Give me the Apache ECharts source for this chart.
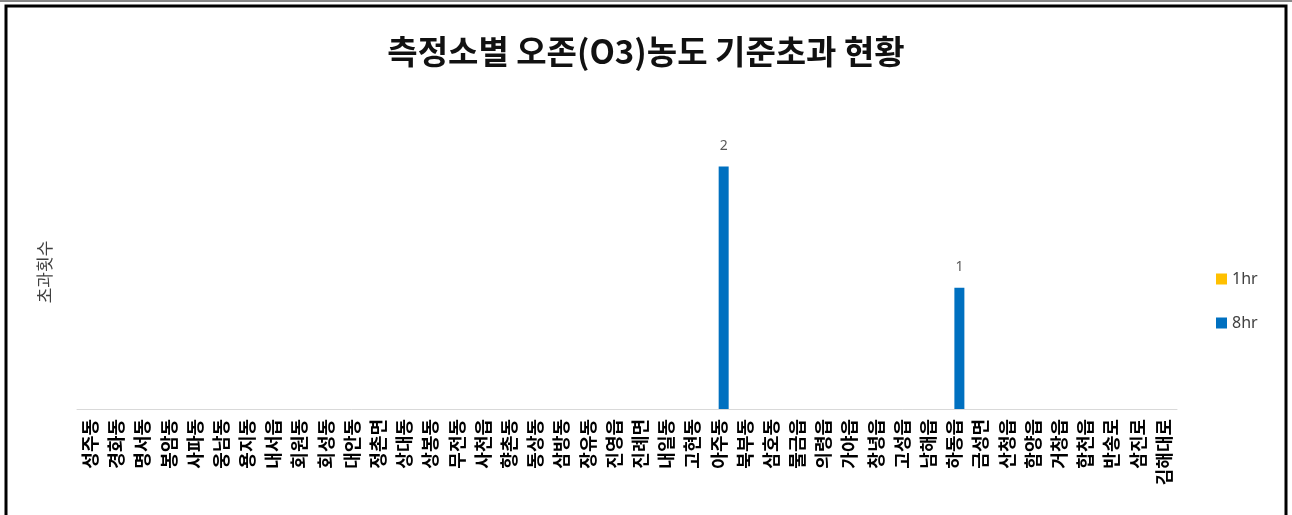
<!DOCTYPE html>
<html>
<head>
<meta charset="utf-8">
<script src="https://cdn.jsdelivr.net/npm/echarts@6/dist/echarts.min.js"></script>
<style>
html,body{margin:0;padding:0;background:#fff;}
#chart{width:1292px;height:515px;}
</style>
</head>
<body>
<div id="chart"></div>
<script>
const categories = ['성주동','경화동','명서동','봉암동','사파동','웅남동','용지동','내서읍','회원동','회성동','대안동','정촌면','상대동','상봉동','무전동','사천읍','향촌동','동상동','삼방동','장유동','진영읍','진례면','내일동','고현동','아주동','북부동','삼호동','물금읍','의령읍','가야읍','창녕읍','고성읍','남해읍','하동읍','금성면','산청읍','함양읍','거창읍','합천읍','반송로','삼진로','김해대로'];
const values1hr = categories.map(() => 0);
const values8hr = [0,0,0,0,0,0,0,0,0,0,0,0,0,0,0,0,0,0,0,0,0,0,0,0,2,0,0,0,0,0,0,0,0,1,0,0,0,0,0,0,0,0];
const titleText = '측정소별 오존(O3)농도 기준초과 현황';
const yName = '초과횟수';

const chart = echarts.init(document.getElementById('chart'));
const lbl = {
  show: true, position: 'top', distance: 14, color: '#595959', fontSize: 14,
  fontFamily: 'Noto Sans',
  formatter: p => (p.value ? String(p.value) : '')
};
chart.setOption({
  animation: false,
  backgroundColor: '#fff',
  title: {
    text: titleText, left: 'center', top: 30,
    textStyle: { fontFamily: 'Noto Sans CJK KR', fontWeight: 'bold', fontSize: 33, color: '#111' }
  },
  graphic: [
    { type: 'line', shape: { x1: 0, y1: 1, x2: 1292, y2: 1 }, style: { stroke: '#888', lineWidth: 2 } },
    { type: 'rect', shape: { x: 6, y: 6, width: 1280, height: 520 }, style: { fill: 'none', stroke: '#000', lineWidth: 3 } },
    { type: 'text', x: 45, y: 272, rotation: Math.PI / 2,
      style: { text: yName, fontFamily: 'Noto Sans CJK KR', fontSize: 17, fill: '#404040', align: 'center', verticalAlign: 'middle' } }
  ],
  legend: {
    orient: 'vertical', left: 1211, top: 266, itemGap: 28,
    itemWidth: 11, itemHeight: 11, icon: 'rect',
    textStyle: { fontFamily: 'Noto Sans', fontSize: 16, color: '#404040' },
    data: ['1hr', '8hr']
  },
  grid: { left: 77, right: 115, top: 106, bottom: 106, containLabel: false },
  xAxis: {
    type: 'category', data: categories,
    axisLine: { lineStyle: { color: '#d9d9d9', width: 1 } },
    axisTick: { show: false },
    axisLabel: {
      interval: 0, rotate: 90, margin: 10,
      fontFamily: 'Noto Sans CJK KR', fontWeight: 'bold', fontSize: 18, color: '#000'
    }
  },
  yAxis: {
    type: 'value', min: 0, max: 2.5, interval: 0.5,
    axisLine: { show: false }, axisTick: { show: false },
    axisLabel: { show: false }, splitLine: { show: false }
  },
  series: [
    { name: '1hr', type: 'bar', data: values1hr, barWidth: 10, barGap: '0%', itemStyle: { color: '#FFC000' }, label: lbl },
    { name: '8hr', type: 'bar', data: values8hr, barWidth: 10, barGap: '0%', itemStyle: { color: '#0070C0' }, label: lbl }
  ]
});
</script>
</body>
</html>
